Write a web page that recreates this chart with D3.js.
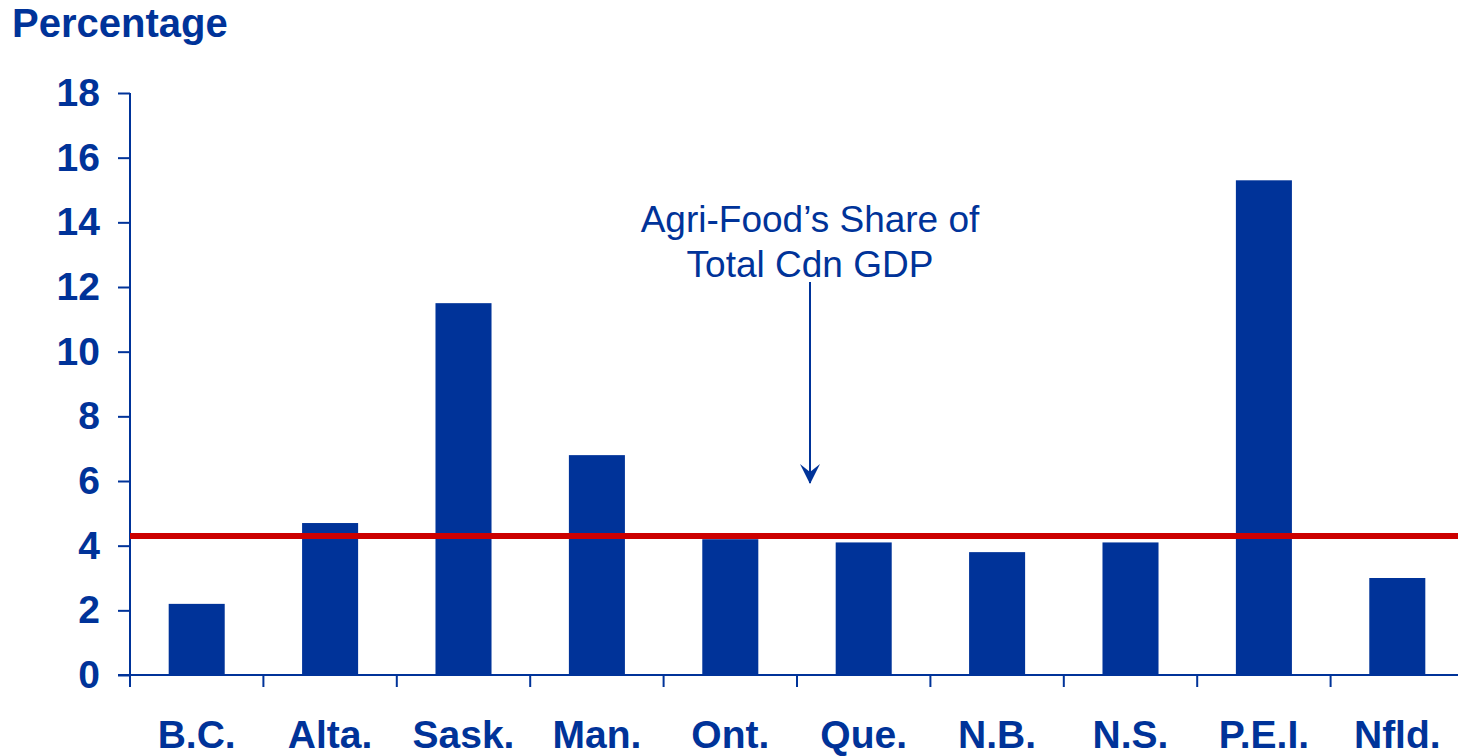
<!DOCTYPE html>
<meta charset="utf-8">
<style>
body { margin: 0; background: #fff; }
svg text { font-family: Arial, "Liberation Sans", sans-serif; fill: #003399; }
.axis path, .axis line { stroke: #003399; stroke-width: 2px; }
.axis text { font-size: 39px; font-weight: bold; }
.note { font-size: 37px; }
</style>
<svg width="1458" height="756"></svg>
<script src="https://d3js.org/d3.v7.min.js"></script>
<script>

// data
var provinces = ["B.C.", "Alta.", "Sask.", "Man.", "Ont.", "Que.", "N.B.", "N.S.", "P.E.I.", "Nfld."];
var shares = [2.2, 4.7, 11.5, 6.8, 4.2, 4.1, 3.8, 4.1, 15.3, 3.0];
var canadaShare = 4.3;
var yTicks = [0, 2, 4, 6, 8, 10, 12, 14, 16, 18];
var noteLines = ["Agri-Food\u2019s Share of", "Total Cdn GDP"];

var svg = d3.select("svg"),
    width = +svg.attr("width"),
    height = +svg.attr("height");

var blue = "#003399", red = "#CC0000";

var x = d3.scaleBand()
    .domain(provinces)
    .range([130, 130 + 133.4 * provinces.length])
    .paddingInner(0.58)
    .paddingOuter(0.29);

var y = d3.scaleLinear().domain([0, 18]).range([675, 93]);

// y axis
var yAxis = svg.append("g")
    .attr("class", "axis")
    .attr("transform", "translate(130,0)")
    .call(d3.axisLeft(y).tickValues(yTicks).tickSize(12).tickPadding(18).tickSizeOuter(0));
yAxis.select(".domain").attr("d", "M0," + y(18) + "V687");

// x axis: ticks between categories
var xAxis = svg.append("g")
    .attr("class", "axis")
    .attr("transform", "translate(0," + y(0) + ")");
xAxis.append("line")
    .attr("x1", 118).attr("x2", width)
    .attr("y1", 0).attr("y2", 0);
xAxis.selectAll(".sep")
    .data(provinces)
    .enter().append("line")
    .attr("class", "sep")
    .attr("x1", function(d) { return x(d) - x.step() * x.paddingOuter(); })
    .attr("x2", function(d) { return x(d) - x.step() * x.paddingOuter(); })
    .attr("y1", 0).attr("y2", 12);
xAxis.selectAll("text")
    .data(provinces)
    .enter().append("text")
    .attr("x", function(d) { return x(d) + x.bandwidth() / 2; })
    .attr("y", 73)
    .attr("text-anchor", "middle")
    .text(function(d) { return d; });

// bars
svg.append("g")
    .selectAll("rect")
    .data(shares)
    .enter().append("rect")
    .attr("x", function(d, i) { return x(provinces[i]); })
    .attr("y", function(d) { return y(d); })
    .attr("width", x.bandwidth())
    .attr("height", function(d) { return y(0) - y(d); })
    .attr("fill", blue);

// Canada average line
svg.append("line")
    .attr("x1", 130).attr("x2", width)
    .attr("y1", y(canadaShare)).attr("y2", y(canadaShare))
    .attr("stroke", red)
    .attr("stroke-width", 6);

// y title
svg.append("text")
    .attr("x", 12).attr("y", 37)
    .attr("font-size", "40px")
    .attr("font-weight", "bold")
    .text("Percentage");

// annotation
svg.append("text")
    .attr("class", "note")
    .attr("text-anchor", "middle")
    .selectAll("tspan")
    .data(noteLines)
    .enter().append("tspan")
    .attr("x", 810)
    .attr("y", function(d, i) { return 232 + i * 45; })
    .text(function(d) { return d; });

svg.append("defs").append("marker")
    .attr("id", "head")
    .attr("viewBox", "0 0 20 20")
    .attr("refX", 10).attr("refY", 19)
    .attr("markerWidth", 20).attr("markerHeight", 20)
    .attr("markerUnits", "userSpaceOnUse")
    .attr("orient", "0")
  .append("path")
    .attr("d", "M0,0 L10,20 L20,0 L10,8 Z")
    .attr("fill", blue);

svg.append("line")
    .attr("x1", 810).attr("x2", 810)
    .attr("y1", 282).attr("y2", 483)
    .attr("stroke", blue)
    .attr("stroke-width", 2)
    .attr("marker-end", "url(#head)");

</script>
